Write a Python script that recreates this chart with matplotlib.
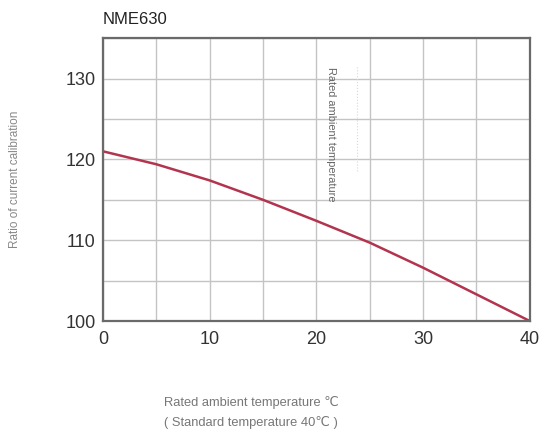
import matplotlib.pyplot as plt
import numpy as np

plt.rcParams['font.family'] = ['Liberation Sans', 'DejaVu Sans']

# curve
temp = [0, 5, 10, 15, 20, 25, 30, 35, 40]
ratio = [121.0, 119.4, 117.4, 115.0, 112.4, 109.7, 106.6, 103.3, 100.0]
xticks = [0, 10, 20, 30, 40]
yticks = [100, 110, 120, 130]

fig = plt.figure(figsize=(5.44, 4.38), dpi=100)
ax = fig.add_axes([0.189, 0.267, 0.785, 0.646])

ax.set_xlim(0, 40)
ax.set_ylim(100, 135)
ax.set_xticks(np.arange(0, 41, 5), minor=True)
ax.set_yticks(np.arange(100, 136, 5), minor=True)
ax.set_xticks(xticks)
ax.set_yticks(yticks)
ax.grid(True, which='both', color='#c4c4c4', lw=1.0)
ax.set_axisbelow(True)
ax.tick_params(which='both', length=0, labelsize=13, colors='#333333')
ax.tick_params(axis='x', pad=7)
ax.tick_params(axis='y', pad=5)
for s in ax.spines.values():
    s.set_color('#6a6a6a')
    s.set_linewidth(1.6)

# white strip behind the rotated note
ax.fill_between([20.1, 23.8], 114.0, 133.0, color='white', zorder=0.5, lw=0)
ax.plot([23.8, 23.8], [118.5, 131.5], color='#d8d8d8', lw=0.8, ls=':', zorder=0.6)

ax.plot(temp, ratio, color='#b3344e', lw=1.8, solid_capstyle='round')

ax.text(21.35, 131.4, 'Rated ambient temperature', rotation=-90, fontsize=7.9,
        color='#666666', ha='center', va='top')

fig.text(0.189, 0.955, 'NME630', fontsize=12, color='#222222', ha='left', va='center')
fig.text(0.028, 0.59, 'Ratio of current calibration', rotation=90, fontsize=8.5,
         color='#888888', ha='center', va='center')
fig.text(0.462, 0.082, 'Rated ambient temperature ℃', fontsize=9.3, color='#777777',
         ha='center', va='center')
fig.text(0.462, 0.036, '( Standard temperature 40℃ )', fontsize=9.3, color='#777777',
         ha='center', va='center')

fig.savefig('out.png', dpi=100, facecolor='white')
